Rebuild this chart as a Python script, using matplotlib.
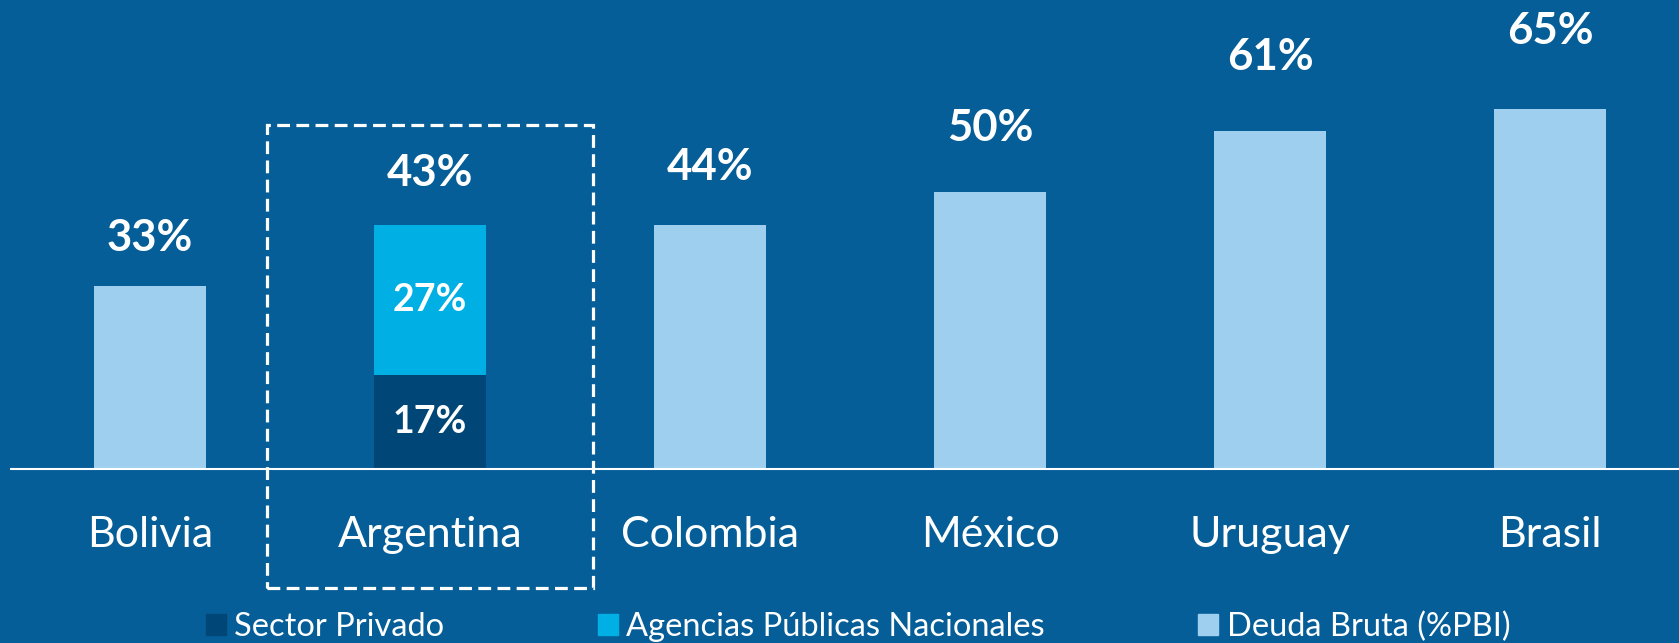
import matplotlib.pyplot as plt
from matplotlib.patches import Rectangle, Patch

plt.rcParams['font.family'] = ['Lato', 'DejaVu Sans']

# datos
paises = ['Bolivia', 'Argentina', 'Colombia', 'México', 'Uruguay', 'Brasil']
deuda_bruta = [33, 43, 44, 50, 61, 65]
sector_privado = 17
agencias_publicas = 27

bg = '#055E97'
c_claro = '#9FCFEE'
c_agencias = '#00B0E5'
c_privado = '#004677'

fig = plt.figure(figsize=(16.79, 6.43), dpi=100, facecolor=bg)
ax = fig.add_axes([10 / 1679, 0, 1 - 10 / 1679, 1])
ax.set_facecolor(bg)
ax.set_xlim(-0.5, 5.46)
ax.set_ylim(-31.4, 84.6)
ax.axis('off')

x = list(range(len(paises)))
ancho = 0.4

# barras de deuda bruta (menos Argentina, que va apilada)
otros = [i for i in x if paises[i] != 'Argentina']
ax.bar(otros, [deuda_bruta[i] for i in otros], width=ancho, color=c_claro, zorder=2)

ia = paises.index('Argentina')
ax.bar(ia, sector_privado, width=ancho, color=c_privado, zorder=2)
ax.bar(ia, agencias_publicas, bottom=sector_privado, width=ancho, color=c_agencias, zorder=2)
ax.text(ia, sector_privado / 2, f'{sector_privado}%', ha='center', va='center',
        color='white', fontsize=27, fontweight='bold', zorder=3)
ax.text(ia, sector_privado + agencias_publicas / 2, f'{agencias_publicas}%', ha='center',
        va='center', color='white', fontsize=27, fontweight='bold', zorder=3)

# etiquetas de totales
for i, v in enumerate(deuda_bruta):
    ax.text(i, v * 1.17 + 3.0, f'{v}%', ha='center', va='center', color='white',
            fontsize=31.5, fontweight='bold')

# nombres de paises
for i, p in enumerate(paises):
    ax.text(i, -11.9, p, ha='center', va='center', color='white', fontsize=31)

ax.axhline(0, color='white', lw=1.5, zorder=4)

# recuadro punteado sobre Argentina
ax.add_patch(Rectangle((ia - 0.582, -21.5), 1.164, 83.5, fill=False, edgecolor='white',
                       lw=2.3, linestyle=(0, (4, 2)), zorder=5, clip_on=False))

handles = [Patch(color=c_privado, label='Sector Privado'),
           Patch(color=c_agencias, label='Agencias Públicas Nacionales'),
           Patch(color=c_claro, label='Deuda Bruta (%PBI)')]
leg = fig.legend(handles=handles, loc='center', bbox_to_anchor=(858 / 1679, 0.025), ncol=3,
                 frameon=False, fontsize=23.5, handlelength=0.62, handleheight=0.62,
                 handletextpad=0.25, columnspacing=4.7, borderpad=0)
for t in leg.get_texts():
    t.set_color('white')

fig.savefig('out.png', dpi=100, facecolor=bg)
